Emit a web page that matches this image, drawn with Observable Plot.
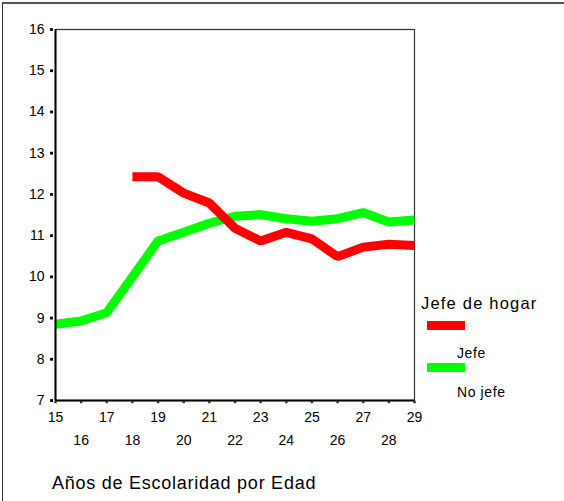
<!DOCTYPE html>
<html>
<head>
<meta charset="utf-8">
<script src="https://cdn.jsdelivr.net/npm/d3@7"></script>
<script src="https://cdn.jsdelivr.net/npm/@observablehq/plot@0.6"></script>
<style>
  html, body { margin: 0; padding: 0; background: #fff; }
  #wrap { position: relative; width: 564px; height: 501px; overflow: hidden;
          font-family: "Liberation Sans", Arial, sans-serif; color: #000; }
  #border { position: absolute; left: 2px; top: 2px; right: -5px; bottom: -5px;
            border-top: 2px solid #555; border-left: 1.5px solid #333; }
  #chart { position: absolute; left: 0; top: 0; }
  .txt { position: absolute; white-space: nowrap; line-height: 1.15; }
  .sw { position: absolute; width: 38px; height: 9px; }
</style>
</head>
<body>
<div id="wrap">
  <div id="border"></div>
  <div id="chart"></div>
</div>
<script>
const ages = [15,16,17,18,19,20,21,22,23,24,25,26,27,28,29];
const jefe = [null,null,null,12.43,12.43,12.03,11.79,11.18,10.87,11.08,10.92,10.49,10.72,10.79,10.76];
const noJefe = [8.85,8.93,9.13,10.0,10.87,11.08,11.3,11.47,11.51,11.41,11.35,11.41,11.56,11.33,11.38];
const seriesNames = ["Jefe", "No jefe"];
const seriesColors = ["#ff0000", "#00ff00"];
const legendTitle = "Jefe de hogar";
const xTitle = "Años de Escolaridad por Edad";
const yTicks = [7,8,9,10,11,12,13,14,15,16];
const xTicksOdd = [15,17,19,21,23,25,27,29];
const xTicksEven = [16,18,20,22,24,26,28];

const rows = [];
ages.forEach((a, i) => {
  if (jefe[i] != null) rows.push({age: a, v: jefe[i], s: seriesNames[0]});
  if (noJefe[i] != null) rows.push({age: a, v: noJefe[i], s: seriesNames[1]});
});

const chart = Plot.plot({
  width: 564,
  height: 501,
  marginLeft: 55,
  marginRight: 150,
  marginTop: 29,
  marginBottom: 101,
  style: {fontFamily: "'Liberation Sans', Arial, sans-serif", fontSize: "14px", background: "transparent", color: "#000"},
  x: {domain: [15, 29]},
  y: {domain: [7, 16]},
  color: {domain: seriesNames, range: seriesColors},
  marks: [
    Plot.frame({stroke: "#333", strokeWidth: 1.2}),
    Plot.line(rows, {x: "age", y: "v", z: "s", stroke: "s", strokeWidth: 9, strokeLinejoin: "bevel", strokeLinecap: "butt"}),
    Plot.ruleX([15], {stroke: "#000", strokeWidth: 2}),
    Plot.ruleY([7], {stroke: "#000", strokeWidth: 2}),
    Plot.axisY({ticks: yTicks, tickSize: 0, tickPadding: 11, label: null, tickFormat: d => String(d), fontSize: 14}),
    Plot.dot(yTicks, {y: d => d, frameAnchor: "left", dx: -4, symbol: "square", r: 1.6, fill: "#000", stroke: null}),
    Plot.axisX({ticks: xTicksOdd, tickSize: 0, tickPadding: 12, label: null, tickFormat: d => String(d), fontSize: 14}),
    Plot.axisX({ticks: xTicksEven, tickSize: 0, tickPadding: 35, label: null, tickFormat: d => String(d), fontSize: 14}),
    Plot.dot(ages, {x: d => d, frameAnchor: "bottom", dy: 1.5, symbol: "square", r: 1.4, fill: "#333", stroke: null})
  ]
});
document.getElementById("chart").appendChild(chart);

const wrap = document.getElementById("wrap");
function addText(t, left, top, size, ls) {
  const d = document.createElement("div");
  d.className = "txt";
  d.textContent = t;
  d.style.left = left + "px";
  d.style.top = top + "px";
  d.style.fontSize = size + "px";
  d.style.letterSpacing = ls + "px";
  wrap.appendChild(d);
  return d;
}
addText(xTitle, 52, 473, 18, 0.75);
addText(legendTitle, 421, 294, 16.5, 1.2);
const swTops = [321, 363];
const labTops = [344.5, 384];
seriesNames.forEach((n, i) => {
  const s = document.createElement("div");
  s.className = "sw";
  s.style.left = "427px";
  s.style.top = swTops[i] + "px";
  s.style.background = seriesColors[i];
  wrap.appendChild(s);
  addText(n, 457, labTops[i], 14, 0.6);
});
</script>
</body>
</html>
